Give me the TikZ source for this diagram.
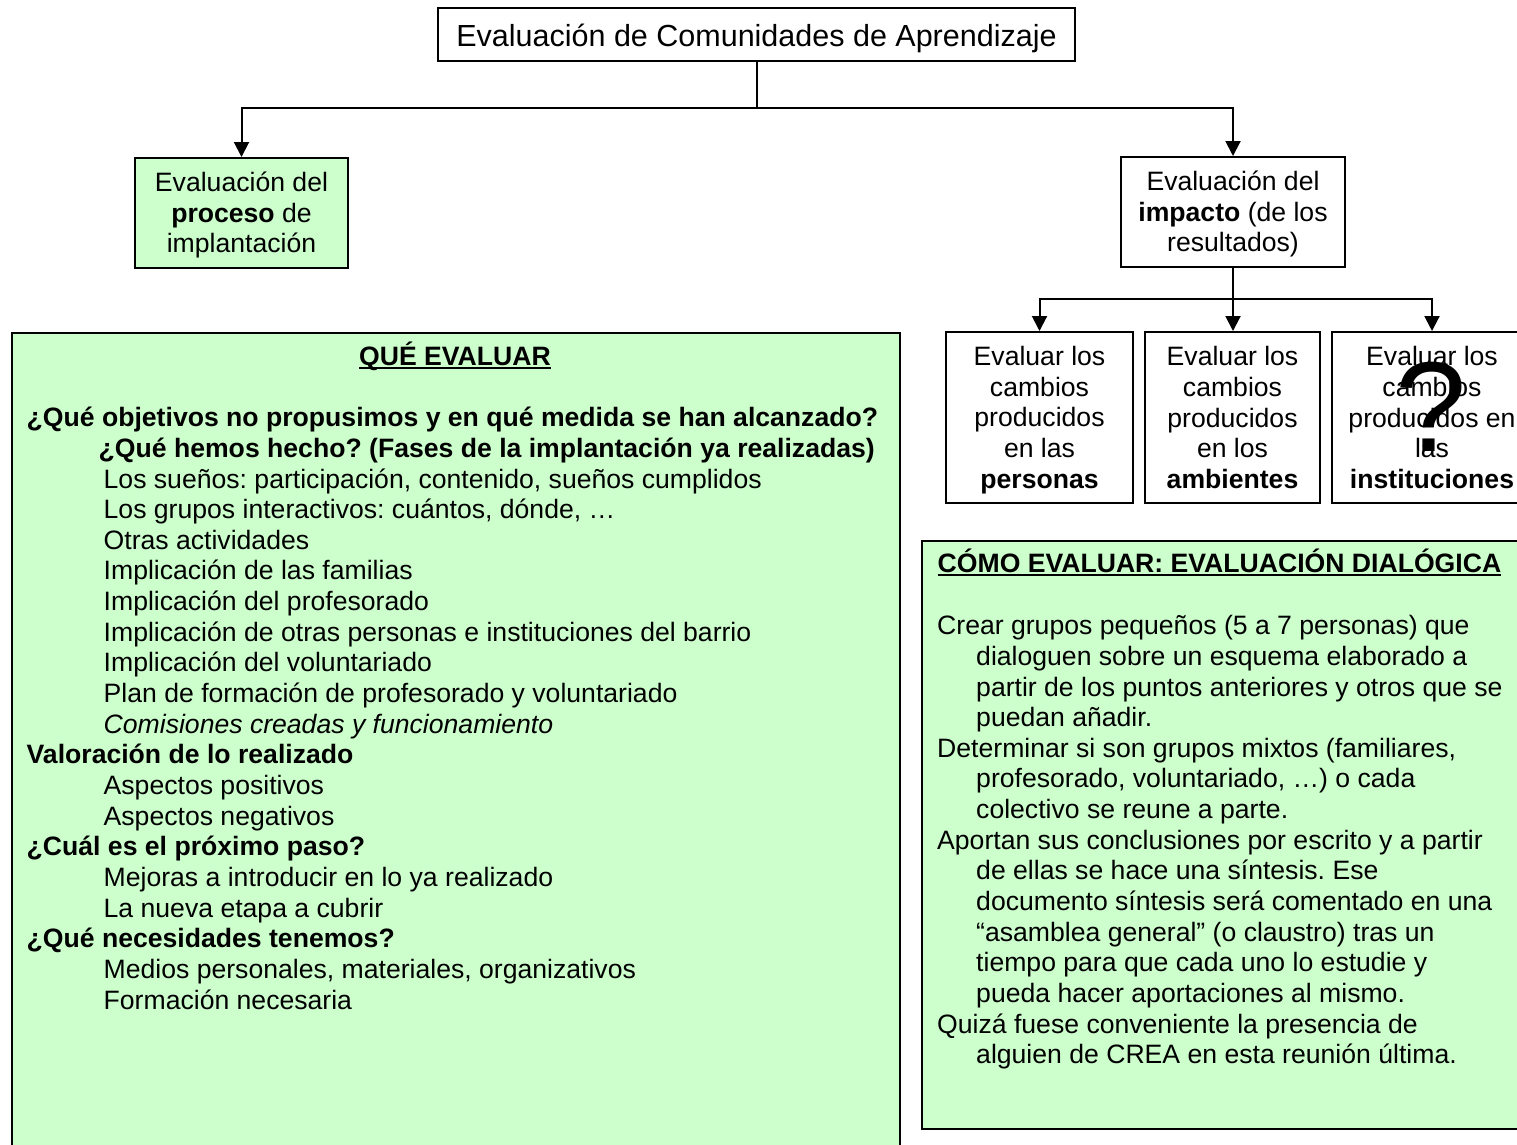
\documentclass[tikz,border=0pt]{standalone}
\usepackage{fontspec}
\setmainfont{Liberation Sans}
\usetikzlibrary{arrows.meta}
\definecolor{lgreen}{HTML}{CCFFCC}
\newcommand{\mystrut}{\rule[-5pt]{0pt}{29pt}}
\newcommand{\topstrut}{\rule{0pt}{26pt}}
\newcommand{\titlestrut}{\rule[-5pt]{0pt}{35pt}}
\frenchspacing
\begin{document}
\begin{tikzpicture}[x=1pt,y=-1pt,
  txt/.style={inner sep=0pt, font=\fontsize{26.6}{30.65}\selectfont},
  box/.style={draw, line width=2pt, inner sep=0pt, align=center, font=\fontsize{26.6}{30.65}\selectfont},
  gbox/.style={box, fill=lgreen},
  conn/.style={line width=2pt, -{Triangle[length=15pt,width=15pt]}},
  plain/.style={line width=2pt},
  uline/.style={line width=2pt}]
\useasboundingbox (0,0) rectangle (1517,1144);
\fill[white] (0,0) rectangle (1517,1144);
\clip (0,0) rectangle (1517,1144);

% top
\node[box, minimum width=637pt, minimum height=53pt, font=\fontsize{30.5}{35}\selectfont] (title) at (756.5,34.5) {\titlestrut Evaluación de Comunidades de Aprendizaje};
\node[gbox, minimum width=213pt, minimum height=110pt] (proc) at (241.5,213) {\mystrut Evaluación del\\\textbf{proceso} de\\\mystrut implantación};
\node[box, minimum width=224pt, minimum height=110pt] (imp) at (1233,212) {\mystrut Evaluación del\\\textbf{impacto} (de los\\\mystrut resultados)};

\node[box, minimum width=187pt, minimum height=171pt] (b1) at (1039.5,417.5) {\mystrut Evaluar los\\cambios\\producidos\\en las\\\mystrut\textbf{personas}};
\node[box, minimum width=175pt, minimum height=171pt] (b2) at (1232.5,417.5) {\mystrut Evaluar los\\cambios\\producidos\\en los\\\mystrut\textbf{ambientes}};
\node[box, minimum width=200pt, minimum height=171pt] (b3) at (1432,417.5) {\mystrut Evaluar los\\cambios\\producidos en\\las\\\mystrut\textbf{instituciones}};
\node[inner sep=0pt, font=\fontsize{128}{128}\selectfont] (qm) at (1431,407) {?};

% connectors
\coordinate (j1) at (756.5,108);
\draw[plain] (title.south) -- (j1);
\draw[conn] (j1) -| (proc.north);
\draw[conn] (j1) -| (imp.north);
\coordinate (j2) at (1233,299);
\draw[plain] (imp.south) -- (j2);
\draw[conn] (j2) -| (b1.north);
\draw[conn] (j2) -- (j2 |- b2.north);
\draw[conn] (j2) -| (b3.north);

% big boxes
\node[gbox, anchor=north west, minimum width=888pt, minimum height=840pt] (que) at (11,332) {};
\node[gbox, anchor=north west, minimum width=620pt, minimum height=588pt] (como) at (921,540) {};

\node[txt, anchor=base] (queh) at (455,365.5) {\textbf{QUÉ EVALUAR}};
\draw[uline] ([yshift=-2.7pt]queh.base west) -- ([yshift=-2.7pt]queh.base east);
\node[txt, anchor=north west, align=left] (quetxt) at (26.5,400.5) {\topstrut\textbf{¿Qué objetivos no propusimos y en qué medida se han alcanzado?}\\
\hspace*{72pt}\textbf{¿Qué hemos hecho? (Fases de la implantación ya realizadas)}\\
\hspace*{77pt}Los sueños: participación, contenido, sueños cumplidos\\
\hspace*{77pt}Los grupos interactivos: cuántos, dónde, …\\
\hspace*{77pt}Otras actividades\\
\hspace*{77pt}Implicación de las familias\\
\hspace*{77pt}Implicación del profesorado\\
\hspace*{77pt}Implicación de otras personas e instituciones del barrio\\
\hspace*{77pt}Implicación del voluntariado\\
\hspace*{77pt}Plan de formación de profesorado y voluntariado\\
\hspace*{77pt}\textit{Comisiones creadas y funcionamiento}\\
\textbf{Valoración de lo realizado}\\
\hspace*{77pt}Aspectos positivos\\
\hspace*{77pt}Aspectos negativos\\
\textbf{¿Cuál es el próximo paso?}\\
\hspace*{77pt}Mejoras a introducir en lo ya realizado\\
\hspace*{77pt}La nueva etapa a cubrir\\
\textbf{¿Qué necesidades tenemos?}\\
\hspace*{77pt}Medios personales, materiales, organizativos\\
\hspace*{77pt}Formación necesaria};

\node[txt, anchor=base west] (comoh) at (937.5,572.5) {\textbf{CÓMO EVALUAR: EVALUACIÓN DIALÓGICA}};
\draw[uline] ([yshift=-2.7pt]comoh.base west) -- ([yshift=-2.7pt]comoh.base east);
\node[txt, anchor=north west, align=left] (comotxt) at (937,608.5) {\topstrut Crear grupos pequeños (5 a 7 personas) que\\
\hspace*{39pt}dialoguen sobre un esquema elaborado a\\
\hspace*{39pt}partir de los puntos anteriores y otros que se\\
\hspace*{39pt}puedan añadir.\\
Determinar si son grupos mixtos (familiares,\\
\hspace*{39pt}profesorado, voluntariado, …) o cada\\
\hspace*{39pt}colectivo se reune a parte.\\
Aportan sus conclusiones por escrito y a partir\\
\hspace*{39pt}de ellas se hace una síntesis. Ese\\
\hspace*{39pt}documento síntesis será comentado en una\\
\hspace*{39pt}“asamblea general” (o claustro) tras un\\
\hspace*{39pt}tiempo para que cada uno lo estudie y\\
\hspace*{39pt}pueda hacer aportaciones al mismo.\\
Quizá fuese conveniente la presencia de\\
\hspace*{39pt}alguien de CREA en esta reunión última.};
\end{tikzpicture}
\end{document}
